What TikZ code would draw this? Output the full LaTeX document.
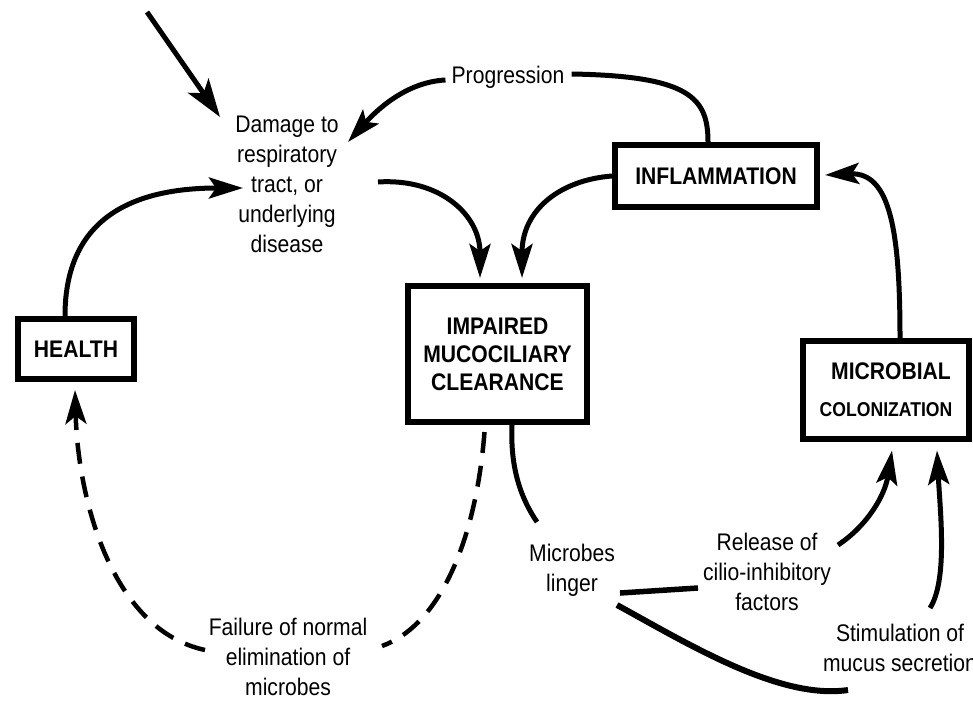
\documentclass[tikz,border=0pt]{standalone}
\usepackage{fontspec}
\setmainfont{Liberation Sans}[FakeStretch=0.88]
\usetikzlibrary{arrows.meta,calc}
\begin{document}
\begin{tikzpicture}[x=1pt,y=-1pt,
  lab/.style={align=center,inner sep=0pt,font=\fontsize{24}{30}\selectfont},
  box/.style={draw,line width=6pt,inner sep=0pt,align=center,font=\bfseries\fontsize{24}{28}\selectfont},
  conn/.style={line width=5pt},
  arr/.style={line width=5pt,-{Stealth[length=34pt,width=21pt,inset=7pt]}},
  dsh/.style={line width=4.5pt,dash pattern=on 21pt off 13pt},
]
\clip (0,0) rectangle (973,701);
\fill[white] (0,0) rectangle (973,701);

% nodes
\node[lab] (damage) at (287,184) {Damage to\\respiratory\\tract, or\\underlying\\disease};
\node[lab] (prog) at (508,77) {Progression};
\node[box,minimum width=202pt,minimum height=62pt] (infl) at (716,176) {INFLAMMATION};
\node[box,minimum width=116pt,minimum height=60pt] (health) at (76,349) {HEALTH};
\node[box,minimum width=179pt,minimum height=136pt] (imp) at (497.5,354) {IMPAIRED\\MUCOCILIARY\\CLEARANCE};
\node[box,minimum width=166pt,minimum height=98pt] (micro) at (886,390)
  {\hspace*{10pt}MICROBIAL\\[9pt]{\fontsize{20}{24}\selectfont COLONIZATION}};
\node[lab] (linger) at (572,570) {Microbes\\linger};
\node[lab] (release) at (767,572) {Release of\\cilio-inhibitory\\factors};
\node[lab] (stim) at (900,648) {Stimulation of\\mucus secretion};
\node[lab] (failure) at (288,657) {Failure of normal\\elimination of\\microbes};
\coordinate (src) at (147,12);

% connectors
\draw[arr,-{Stealth[length=38pt,width=25pt,inset=9pt]}] (src) -- ($(damage)+(-67,-67)$);
\draw[arr] ($(prog.west)+(-6,3)$) .. controls (405,82) and (375,112) .. ($(damage)+(61,-42)$);
\draw[conn] ($(prog.east)+(7,-3)$) .. controls (690,76) and ($(infl.north)+(-8,-44)$) .. ($(infl.north)+(-8,0)$);
\draw[arr] ($(health.north)+(-11,0)$) .. controls (65,220) and (130,188) .. ($(damage)+(-44,4)$);
\draw[arr] ($(damage)+(91,-2)$) .. controls (440,178) and (480,215) .. ($(imp.north)+(-17.5,-5)$);
\draw[arr] (infl.west) .. controls (560,180) and (522,210) .. ($(imp.north)+(24.5,-5)$);
\draw[arr] ($(micro.north)+(14,0)$) .. controls (900,230) and (890,172) .. ($(infl.east)+(5,-1)$);

\coordinate (f1) at ($(failure)+(94,-11)$);
\coordinate (f2) at ($(failure)+(-83,-7)$);
\draw[dsh] ($(imp.south)+(-13,7)$) .. controls (476,540) and (440,625) .. (f1);
\draw[dsh,-{Stealth[length=34pt,width=21pt,inset=8pt]}] (f2) .. controls (112,630) and (78,500) .. ($(health.south)+(-1,8)$);

\draw[conn] ($(imp.south)+(14.5,0)$) .. controls (510,470) and (522,500) .. ($(linger)+(-35,-48)$);
\draw[line width=5.5pt] ($(linger)+(48,23)$) -- ($(release)+(-69,16)$);
\draw[line width=6pt] ($(linger)+(45,35)$) .. controls (690,645) and (780,700) .. ($(stim)+(-52,42)$);
\draw[arr] ($(release)+(71,-27)$) .. controls (868,525) and (885,495) .. ($(micro.south)+(6,8.5)$);
\draw[arr] ($(stim)+(30,-40)$) .. controls (948,580) and (940,510) .. ($(micro.south)+(51,8.5)$);
\end{tikzpicture}
\end{document}
